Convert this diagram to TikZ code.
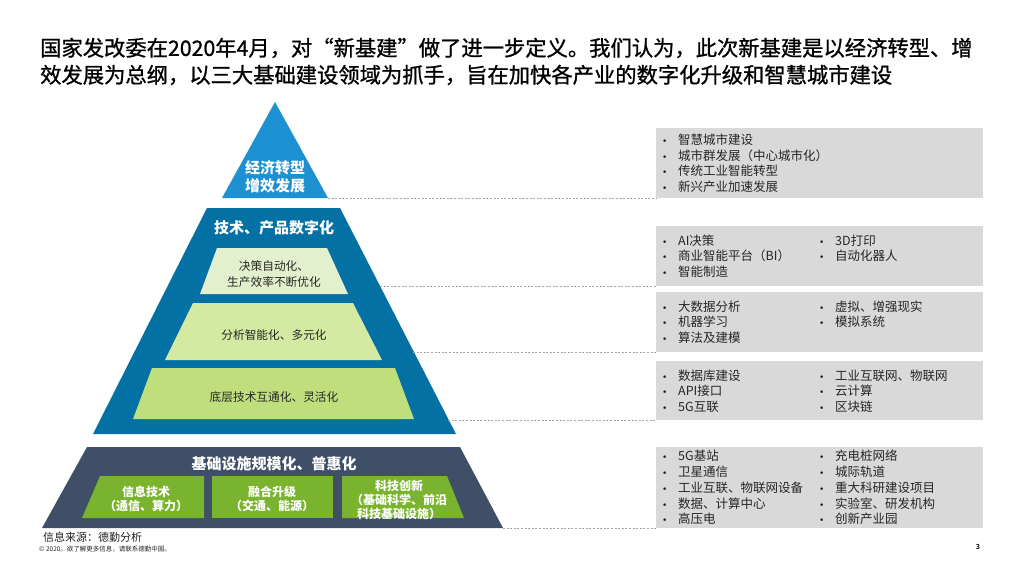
\documentclass[tikz,border=0pt]{standalone}
\usepackage{fontspec}
\setmainfont{Noto Sans CJK SC}
\newfontfamily\titlefont{Noto Sans CJK SC}[FakeBold=1]
\newfontfamily\dvfont{DejaVu Sans}
\definecolor{tritop}{RGB}{28,144,208}
\definecolor{trapblue}{RGB}{4,113,165}
\definecolor{slate}{RGB}{62,79,103}
\definecolor{gboxc}{RGB}{122,180,46}
\definecolor{lg1}{RGB}{227,240,205}
\definecolor{lg2}{RGB}{212,234,162}
\definecolor{lg3}{RGB}{191,222,124}
\definecolor{greybox}{RGB}{217,217,217}
\definecolor{txtdark}{RGB}{38,38,38}
\definecolor{dashc}{RGB}{165,165,165}
\newcommand\fsz[2]{\fontsize{#1}{#2}\selectfont}
\newcommand\bl[1]{\makebox[16pt][l]{\fsz{9}{9}\dvfont •}#1}
\tikzset{
  gbox/.style={fill=greybox, draw=none, anchor=north west, inner sep=0pt},
  conn/.style={draw=dashc, line width=0.6pt, dash pattern=on 2pt off 1.6pt},
  listtxt/.style={anchor=west, align=left, inner sep=0pt, text=txtdark, font=\fsz{12.5}{15.5}},
  whitehead/.style={text=white, align=center, inner sep=0pt, font=\fsz{15}{18}\bfseries},
  layertxt/.style={text=txtdark, align=center, inner sep=0pt, font=\fsz{11.7}{16}},
  greentxt/.style={text=white, align=center, inner sep=0pt, font=\fsz{12}{13.8}\bfseries}
}
\begin{document}
\begin{tikzpicture}[x=1pt,y=-1pt]
\useasboundingbox[fill=white] (0,0) rectangle (1024,576);

% title
\node[anchor=west, align=left, inner sep=0pt, font=\titlefont\fsz{21.3}{27}] (title) at (40,61.5)
  {国家发改委在2020年4月，对“新基建”做了进一步定义。我们认为，此次新基建是以经济转型、增\\
   效发展为总纲，以三大基础建设领域为抓手，旨在加快各产业的数字化升级和智慧城市建设};

% pyramid layers
\fill[tritop] (275,102) -- (328,198) -- (222,198) -- cycle;
\fill[trapblue] (207,208) -- (340,208) -- (456,434) -- (93,434) -- cycle;
\fill[lg1] (217,248) -- (327,248) -- (348,294) -- (200,294) -- cycle;
\fill[lg2] (193,303) -- (353,303) -- (382,360) -- (165,360) -- cycle;
\fill[lg3] (152,368) -- (395,368) -- (414,419) -- (133,419) -- cycle;
\fill[slate] (87,447) -- (460,447) -- (503,528) -- (42,528) -- cycle;
\fill[gboxc] (100,476) -- (204,476) -- (204,518) -- (82,518) -- cycle;
\fill[gboxc] (212,476) -- (333,476) -- (333,518) -- (212,518) -- cycle;
\fill[gboxc] (342,476) -- (447,476) -- (464,518) -- (342,518) -- cycle;

% pyramid texts
\node[whitehead] (top) at (275,177) {经济转型\\增效发展};
\node[whitehead] (tech) at (274,228) {技术、产品数字化};
\node[layertxt] (l1) at (274,274) {决策自动化、\\生产效率不断优化};
\node[layertxt] (l2) at (274,335) {分析智能化、多元化};
\node[layertxt] (l3) at (274,397) {底层技术互通化、灵活化};
\node[whitehead] (base) at (274,464) {基础设施规模化、普惠化};
\node[greentxt] (g1) at (146,499) {信息技术\\（通信、算力）};
\node[greentxt] (g2) at (272,499) {融合升级\\（交通、能源）};
\node[greentxt] (g3) at (399,500) {科技创新\\（基础科学、前沿\\科技基础设施）};

% edge points of the pyramid
\coordinate (e1) at (328,198);
\coordinate (e2) at (380,286);
\coordinate (e3) at (413,352);
\coordinate (e4) at (448,420);
\coordinate (e5) at (503,528);

% grey boxes
\node[gbox, minimum width=327pt, minimum height=70pt] (b1) at (656,128) {};
\node[gbox, minimum width=327pt, minimum height=60pt] (b2) at (656,226) {};
\node[gbox, minimum width=327pt, minimum height=60pt] (b3) at (656,292) {};
\node[gbox, minimum width=327pt, minimum height=59pt] (b4) at (656,361) {};
\node[gbox, minimum width=327pt, minimum height=81pt] (b5) at (656,447) {};

\node[listtxt] (t1a) at (662,163) {\bl{智慧城市建设}\\\bl{城市群发展（中心城市化）}\\\bl{传统工业智能转型}\\\bl{新兴产业加速发展}};
\node[listtxt] (t2a) at (662,256) {\bl{AI决策}\\\bl{商业智能平台（BI）}\\\bl{智能制造}};
\node[listtxt, anchor=north west] (t2b) at (t2a.north west -| 819,0) {\bl{3D打印}\\\bl{自动化器人}};
\node[listtxt] (t3a) at (662,322) {\bl{大数据分析}\\\bl{机器学习}\\\bl{算法及建模}};
\node[listtxt, anchor=north west] (t3b) at (t3a.north west -| 819,0) {\bl{虚拟、增强现实}\\\bl{模拟系统}};
\node[listtxt] (t4a) at (662,391) {\bl{数据库建设}\\\bl{API接口}\\\bl{5G互联}};
\node[listtxt, anchor=north west] (t4b) at (t4a.north west -| 819,0) {\bl{工业互联网、物联网}\\\bl{云计算}\\\bl{区块链}};
\node[listtxt, font=\fsz{12.5}{15.75}] (t5a) at (662,487.5) {\bl{5G基站}\\\bl{卫星通信}\\\bl{工业互联、物联网设备}\\\bl{数据、计算中心}\\\bl{高压电}};
\node[listtxt, font=\fsz{12.5}{15.75}, anchor=north west] (t5b) at (t5a.north west -| 819,0) {\bl{充电桩网络}\\\bl{城际轨道}\\\bl{重大科研建设项目}\\\bl{实验室、研发机构}\\\bl{创新产业园}};

% dashed connectors
\draw[conn] (e1 |- b1.south west) -- (b1.south west);
\draw[conn] (e2 |- b2.south west) -- (b2.south west);
\draw[conn] (e3 |- b3.south west) -- (b3.south west);
\draw[conn] (e4 |- b4.south west) -- (b4.south west);
\draw[conn] (e5 |- b5.south west) -- (b5.south west);

% footer
\node[anchor=west, inner sep=0pt, text=txtdark, font=\fsz{11}{13}] (src) at (43,537) {信息来源：德勤分析};
\node[anchor=west, inner sep=0pt, text=txtdark, font=\fsz{6.5}{8}] (copy) at (39,549) {© 2020。欲了解更多信息，请联系德勤中国。};
\node[inner sep=0pt, text=txtdark, font=\fsz{7}{8}\bfseries] (pg) at (978,547) {3};
\end{tikzpicture}
\end{document}
